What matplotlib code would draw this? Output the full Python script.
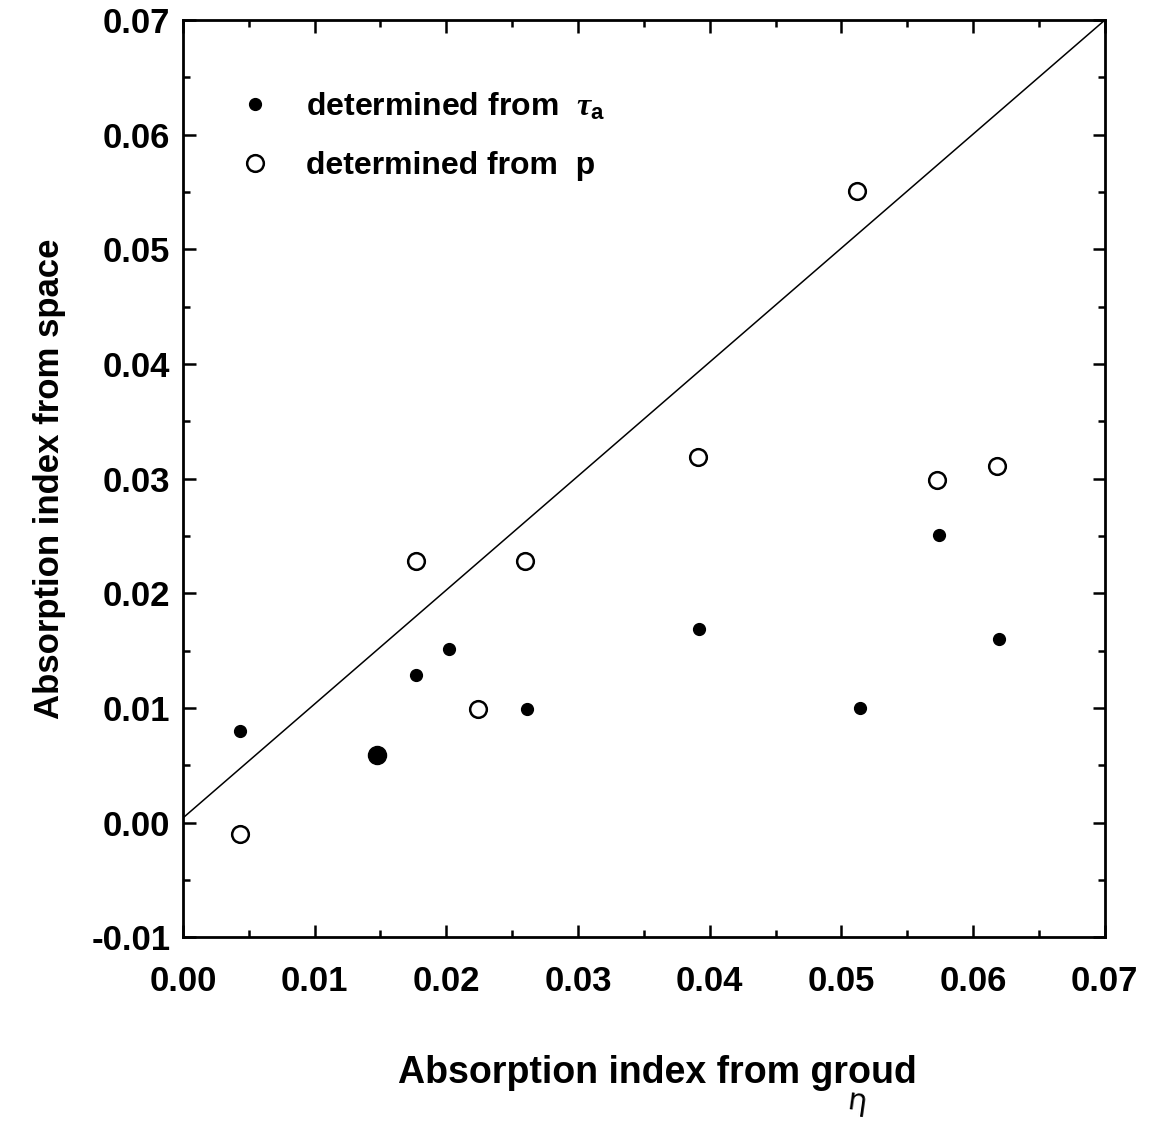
import matplotlib
matplotlib.use("Agg")
from matplotlib import pyplot as plt
from matplotlib.lines import Line2D
import numpy as np

plt.rcParams['font.family'] = ['Liberation Sans', 'DejaVu Sans']
plt.rcParams['font.weight'] = 'bold'
plt.rcParams['mathtext.fontset'] = 'custom'
plt.rcParams['mathtext.rm'] = 'Liberation Sans:bold'
plt.rcParams['mathtext.bf'] = 'Liberation Sans:bold'
plt.rcParams['mathtext.it'] = 'Liberation Serif:italic'

# absorption index determined from tau_a (filled points)
tau_x = [0.0043, 0.0177, 0.0202, 0.0261, 0.0392, 0.0514, 0.0574, 0.0620]
tau_y = [0.0080, 0.0129, 0.0151, 0.0099, 0.0169, 0.0100, 0.0251, 0.0160]
# the one big filled point
big_x = [0.0147]
big_y = [0.0059]

# absorption index determined from p (open points)
p_x = [0.0043, 0.0177, 0.0224, 0.0260, 0.0391, 0.0512, 0.0573, 0.0618]
p_y = [-0.0010, 0.0228, 0.0099, 0.0228, 0.0319, 0.0551, 0.0299, 0.0311]

# 1:1 line
line_x = [0.0, 0.07]
line_y = [0.0004, 0.07]

xticks = [0.00, 0.01, 0.02, 0.03, 0.04, 0.05, 0.06, 0.07]
yticks = [-0.01, 0.00, 0.01, 0.02, 0.03, 0.04, 0.05, 0.06, 0.07]

fig = plt.figure(figsize=(11.58, 11.21), dpi=100)
ax = fig.add_axes([0.158, 0.164, 0.796, 0.818])

ax.plot(line_x, line_y, color='black', lw=1.1)
ax.plot(tau_x, tau_y, 'o', color='black', ms=8.5, ls='none')
ax.plot(big_x, big_y, 'o', color='black', ms=13, ls='none')
ax.plot(p_x, p_y, 'o', mfc='white', mec='black', mew=1.8, ms=12, ls='none')

ax.set_xlim(0, 0.07)
ax.set_ylim(-0.01, 0.07)
ax.set_xticks(xticks)
ax.set_yticks(yticks)
ax.set_xticklabels(['%.2f' % v for v in xticks])
ax.set_yticklabels(['%.2f' % v for v in yticks])
ax.set_xticks(np.arange(0.005, 0.07, 0.01), minor=True)
ax.set_yticks(np.arange(-0.005, 0.07, 0.01), minor=True)

ax.tick_params(which='both', direction='in', top=True, right=True, width=1.8)
ax.tick_params(which='major', length=9)
ax.tick_params(which='minor', length=5)
ax.tick_params(axis='x', labelsize=25, pad=20)
ax.tick_params(axis='y', labelsize=25, pad=9)
for s in ax.spines.values():
    s.set_linewidth(2)

ax.set_xlabel('Absorption index from groud', fontsize=27, fontweight='bold')
ax.set_ylabel('Absorption index from space', fontsize=25, fontweight='bold', labelpad=18)
ax.xaxis.set_label_coords(0.515, -0.128)

handles = [
    Line2D([], [], marker='o', color='black', ls='none', ms=8.5),
    Line2D([], [], marker='o', mfc='white', mec='black', mew=1.8, ls='none', ms=12),
]
labels = [r'determined from  $\mathit{\tau}_{\mathrm{a}}$', 'determined from  p']
ax.legend(handles, labels, loc='upper left', bbox_to_anchor=(0.043, 0.937),
          frameon=False, handletextpad=1.0, handlelength=1.2, labelspacing=0.9,
          borderaxespad=0, prop={'weight': 'bold', 'size': 23})

# handwritten mark under the axis label
fig.text(0.740, 0.008, 'η', fontsize=22, fontweight='normal', family='DejaVu Sans',
         rotation=-8, ha='center')

fig.savefig('out.png', dpi=100)
